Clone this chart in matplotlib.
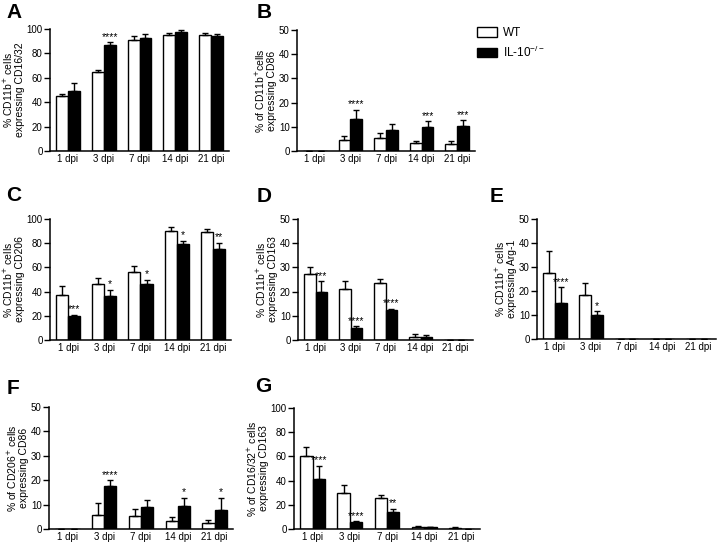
import matplotlib.pyplot as plt
import numpy as np

plt.rcParams['font.family'] = ['Liberation Sans', 'DejaVu Sans']

days = ['1 dpi', '3 dpi', '7 dpi', '14 dpi', '21 dpi']

# A: CD16/32
a_wt = [45, 65, 91, 95, 95]
a_wt_err = [2, 1, 3.5, 2, 2]
a_ko = [49.5, 87, 92.5, 97.5, 94.5]
a_ko_err = [6, 2, 3, 1.5, 1.5]
a_stars = ['', '****', '', '', '']

# B: CD86
b_wt = [0, 4.7, 5.3, 3.2, 3.0]
b_wt_err = [0, 1.7, 2.2, 1.0, 1.3]
b_ko = [0, 13.3, 8.5, 9.8, 10.2]
b_ko_err = [0, 3.8, 2.8, 2.5, 2.5]
b_stars = ['', '****', '', '***', '***']

# C: CD206
c_wt = [37, 46.5, 56, 90, 89.5]
c_wt_err = [8, 4.5, 5, 3, 2.5]
c_ko = [19.5, 36, 46.5, 79, 75.5]
c_ko_err = [1.5, 5.5, 3.5, 3, 5]
c_stars = ['***', '*', '*', '*', '**']

# D: CD163
d_wt = [27.2, 21, 23.4, 1.3, 0]
d_wt_err = [2.8, 3.5, 1.8, 1.2, 0]
d_ko = [20, 5, 12.2, 1.3, 0]
d_ko_err = [4.3, 0.6, 0.6, 0.6, 0]
d_stars = ['***', '****', '****', '', '']

# E: Arg-1
e_wt = [27.7, 18.3, 0, 0, 0]
e_wt_err = [9, 5, 0, 0, 0]
e_ko = [15, 10.2, 0, 0, 0]
e_ko_err = [6.5, 1.3, 0, 0, 0]
e_stars = ['****', '*', '', '', '']

# F: CD206+ expressing CD86
f_wt = [0, 5.6, 5.5, 3.3, 2.5]
f_wt_err = [0, 5, 2.8, 1.7, 1]
f_ko = [0, 17.5, 9, 9.3, 7.8]
f_ko_err = [0, 2.5, 3, 3.5, 5]
f_stars = ['', '****', '', '*', '*']

# G: CD16/32+ expressing CD163
g_wt = [60, 29.5, 25.5, 1.5, 0.8]
g_wt_err = [8, 7, 2.5, 0.8, 0.5]
g_ko = [41, 5.5, 14, 1.5, 0]
g_ko_err = [11, 0.8, 2.5, 0.5, 0]
g_stars = ['****', '****', '**', '', '']

W, H = 720, 546
fig = plt.figure(figsize=(W / 100, H / 100), dpi=100)


def make_ax(left, right, top, bottom):
    return fig.add_axes([left / W, 1 - bottom / H, (right - left) / W, (bottom - top) / H])


def panel(ax, wt, wt_err, ko, ko_err, stars, ymax, ylabel, letter, lx, ly):
    x = np.arange(len(days))
    bw = 1 / 3
    lo = np.zeros(len(days))
    ax.bar(x - bw / 2, wt, bw, color='white', edgecolor='black', linewidth=1,
           yerr=[lo, wt_err], capsize=2.5, error_kw=dict(elinewidth=1, capthick=1), label='WT')
    ax.bar(x + bw / 2, ko, bw, color='black', edgecolor='black', linewidth=1,
           yerr=[lo, ko_err], capsize=2.5, error_kw=dict(elinewidth=1, capthick=1),
           label='IL-10$^{\\mathregular{-/-}}$')
    for i, s in enumerate(stars):
        if s:
            ax.text(x[i] + bw / 2, ko[i] + ko_err[i] + ymax * 0.005, s, ha='center', va='bottom',
                    fontsize=7.5)
    ax.set_xlim(-0.5, 4.5)
    ax.set_ylim(0, ymax)
    ax.set_yticks(np.linspace(0, ymax, 6))
    ax.set_xticks(x)
    ax.set_xticklabels(days)
    ax.tick_params(axis='x', length=0, pad=2.5, labelsize=7)
    ax.tick_params(axis='y', length=4, width=1, labelsize=7, pad=1.2)
    ax.spines['top'].set_visible(False)
    ax.spines['right'].set_visible(False)
    ax.spines['left'].set_linewidth(1.1)
    ax.spines['bottom'].set_linewidth(1.1)
    ax.set_ylabel(ylabel, fontsize=7.5, linespacing=1.0, labelpad=1.5)
    fig.text(lx / W, 1 - ly / H, letter, fontsize=15, fontweight='bold',
             ha='center', va='center')


ax1 = make_ax(50, 229, 29, 151)
panel(ax1, a_wt, a_wt_err, a_ko, a_ko_err, a_stars, 100,
      '% CD11b$^{+}$ cells\nexpressing CD16/32', 'A', 14, 13)

ax2 = make_ax(297, 475, 30, 151)
panel(ax2, b_wt, b_wt_err, b_ko, b_ko_err, b_stars, 50,
      '% of CD11b$^{+}$cells\nexpressing CD86', 'B', 264, 12)

ax3 = make_ax(50, 231, 219, 340)
panel(ax3, c_wt, c_wt_err, c_ko, c_ko_err, c_stars, 100,
      '% CD11b$^{+}$ cells\nexpressing CD206', 'C', 14, 195)

ax4 = make_ax(298, 473, 219, 340)
panel(ax4, d_wt, d_wt_err, d_ko, d_ko_err, d_stars, 50,
      '% CD11b$^{+}$ cells\nexpressing CD163', 'D', 264, 197)

ax5 = make_ax(537, 716, 219, 339)
panel(ax5, e_wt, e_wt_err, e_ko, e_ko_err, e_stars, 50,
      '% CD11b$^{+}$ cells\nexpressing Arg-1', 'E', 497, 197)

ax6 = make_ax(49, 233, 407, 529)
panel(ax6, f_wt, f_wt_err, f_ko, f_ko_err, f_stars, 50,
      '% of CD206$^{+}$ cells\nexpressing CD86', 'F', 13, 388)

ax7 = make_ax(294, 480, 408, 529)
panel(ax7, g_wt, g_wt_err, g_ko, g_ko_err, g_stars, 100,
      '% of CD16/32$^{+}$ cells\nexpressing CD163', 'G', 263, 386)

handles, labels = ax2.get_legend_handles_labels()
fig.legend(handles, labels, loc='upper left', bbox_to_anchor=(477 / W, 1 - 27 / H),
           frameon=False, fontsize=8.5, handlelength=1.7, handleheight=0.85,
           handletextpad=0.5, labelspacing=0.45, borderpad=0, borderaxespad=0)

fig.savefig('out.png', dpi=100)
